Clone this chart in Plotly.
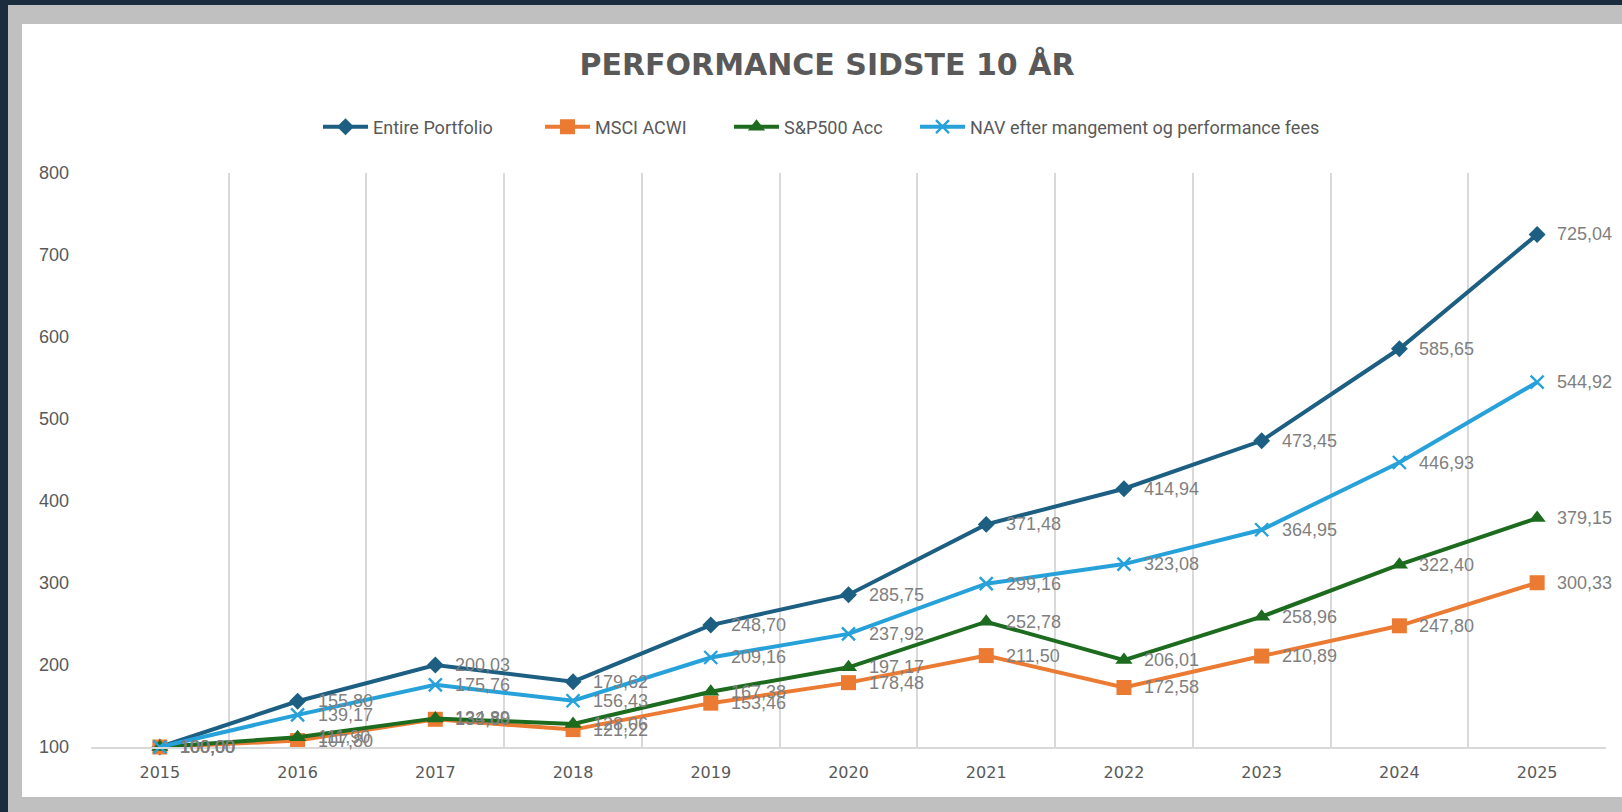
import plotly.graph_objects as go

years = [2015, 2016, 2017, 2018, 2019, 2020, 2021, 2022, 2023, 2024, 2025]
year_labels = [str(y) for y in years]

entire_portfolio = [100.00, 155.80, 200.03, 179.62, 248.70, 285.75, 371.48, 414.94, 473.45, 585.65, 725.04]
msci_acwi = [100.00, 107.80, 133.80, 121.22, 153.46, 178.48, 211.50, 172.58, 210.89, 247.80, 300.33]
sp500_acc = [100.00, 111.90, 134.89, 128.06, 167.38, 197.17, 252.78, 206.01, 258.96, 322.40, 379.15]
nav_after_fees = [100.00, 139.17, 175.76, 156.43, 209.16, 237.92, 299.16, 323.08, 364.95, 446.93, 544.92]

y_ticks = [100, 200, 300, 400, 500, 600, 700, 800]

W, H = 1622, 812
L, R, T, B = 91, 1606, 173, 747


def px_x(px):
    return (px - L) / (R - L)


def px_y(py):
    return (B - py) / (B - T)


def fmt(v):
    return f"{v:.2f}".replace(".", ",")


series = [
    ("Entire Portfolio", entire_portfolio, "#1d5f82", dict(symbol="diamond", size=13), "legend", 370),
    ("MSCI ACWI", msci_acwi, "#eb7a32", dict(symbol="square", size=15), "legend2", 592),
    ("S&P500 Acc", sp500_acc, "#1d6b1f", dict(symbol="triangle-up", size=15), "legend3", 781),
    ("NAV efter mangement og performance fees", nav_after_fees, "#27a1d9",
     dict(symbol="x-thin-open", size=13, line=dict(width=2.4)), "legend4", 967),
]

legend_font = dict(family="Roboto, sans-serif", size=18, color="#595959")

fig = go.Figure()
annotations = []
legends = {}
for name, vals, color, mk, leg, text_start in series:
    marker = dict(color=color, **mk)
    if "line" in marker:
        marker["line"]["color"] = color
    fig.add_trace(go.Scatter(
        x=years, y=vals, name=name, mode="lines+markers",
        line=dict(color=color, width=4),
        marker=marker,
        legend=leg,
        cliponaxis=False,
    ))
    for xv, yv in zip(years, vals):
        annotations.append(dict(
            x=xv, y=yv, xref="x", yref="y", text=fmt(yv), showarrow=False,
            xanchor="left", yanchor="middle", xshift=18,
            font=dict(family="Liberation Sans, Arial, sans-serif", size=18, color="#7f7f7f"),
        ))
    legends[leg] = dict(
        orientation="h", x=px_x(text_start - 52), xanchor="left",
        y=px_y(127), yanchor="middle",
        font=legend_font, bgcolor="rgba(0,0,0,0)", itemwidth=45,
    )

shapes = [
    dict(type="rect", xref="paper", yref="paper", layer="below",
         x0=px_x(22), x1=px_x(W + 5), y0=px_y(797), y1=px_y(24),
         fillcolor="#ffffff", line=dict(width=0)),
    dict(type="rect", xref="paper", yref="paper", layer="below",
         x0=px_x(-5), x1=px_x(8), y0=px_y(H + 5), y1=px_y(-5),
         fillcolor="#1a2c3d", line=dict(width=0)),
    dict(type="rect", xref="paper", yref="paper", layer="below",
         x0=px_x(-5), x1=px_x(W + 5), y0=px_y(5), y1=px_y(-5),
         fillcolor="#1a2c3d", line=dict(width=0)),
]

fig.update_layout(
    width=W, height=H,
    margin=dict(l=L, r=W - R, t=T, b=H - B, pad=0),
    paper_bgcolor="#c0c0c0",
    plot_bgcolor="rgba(0,0,0,0)",
    shapes=shapes,
    annotations=annotations,
    title=dict(
        text="PERFORMANCE SIDSTE 10 ÅR",
        x=827 / W, xanchor="center",
        y=1 - 64 / H, yanchor="middle",
        font=dict(family="DejaVu Sans, Roboto, sans-serif", size=30, color="#595959", weight="bold"),
    ),
    showlegend=True,
    xaxis=dict(
        range=[2014.5, 2025.5],
        tickmode="array", tickvals=years, ticktext=year_labels,
        showgrid=False, zeroline=False,
        showline=True, linecolor="#d9d9d9", linewidth=2,
        ticks="", ticklabelstandoff=10,
        tickfont=dict(family="DejaVu Sans, sans-serif", size=16, color="#595959"),
        minor=dict(tickmode="linear", tick0=2014.5, dtick=1, showgrid=True,
                   gridcolor="#d9d9d9", gridwidth=2, ticks=""),
        fixedrange=True,
    ),
    yaxis=dict(
        range=[100, 800],
        tickmode="array", tickvals=y_ticks,
        showgrid=False, zeroline=False, showline=False,
        ticks="", ticklabelstandoff=21,
        tickfont=dict(family="Liberation Sans, Arial, sans-serif", size=18, color="#595959"),
        fixedrange=True,
    ),
    **legends,
)

fig.write_html(
    "out.html",
    config={"displayModeBar": False},
    post_script="document.body.style.margin='0';document.body.style.overflow='hidden';",
)
